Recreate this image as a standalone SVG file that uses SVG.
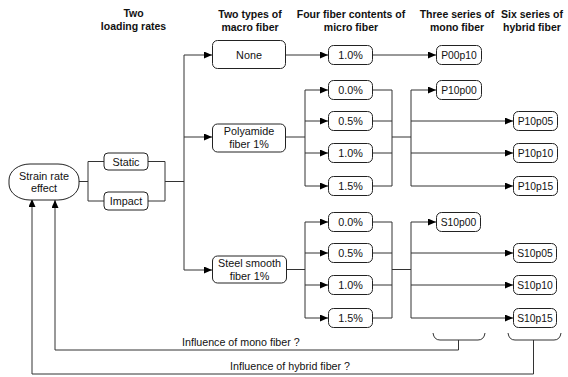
<svg xmlns="http://www.w3.org/2000/svg" width="568" height="377" viewBox="0 0 568 377">
<defs>
<marker id="ah" markerWidth="8" markerHeight="7" refX="8" refY="3.5" orient="auto" markerUnits="userSpaceOnUse"><path d="M0,0 L8,3.5 L0,7 z" fill="#000"/></marker>
<style>
text{font-family:"Liberation Sans",Arial,sans-serif;font-size:10.8px;fill:#111;text-anchor:middle}
.h{font-weight:bold;font-size:10.5px}
.s{font-size:10.3px}
.b{fill:#fff;stroke:#222;stroke-width:1}
.c{fill:none;stroke:#333;stroke-width:1}
.a{marker-end:url(#ah)}
.l{font-size:10.7px;text-anchor:start}
</style>
</defs>
<rect width="568" height="377" fill="#fff"/>
<g id="headers">
<text class="h" x="133.5" y="17">Two</text><text class="h" x="133.5" y="30">loading rates</text>
<text class="h" x="250" y="18">Two types of</text><text class="h" x="250" y="31">macro fiber</text>
<text class="h" x="351" y="18">Four fiber contents of</text><text class="h" x="351" y="31">micro fiber</text>
<text class="h" x="457" y="18">Three series of</text><text class="h" x="457" y="31">mono fiber</text>
<text class="h" x="532" y="18">Six series of</text><text class="h" x="532" y="31">hybrid fiber</text>
</g>
<g id="connectors">
<path class="c" d="M79,181.5 H88 M104,161.5 H88 V201 H104 M148,161.5 H165 V201 H148 M165,181.5 H184 M184,55 V270"/>
<path class="c a" d="M184,55 H212"/><path class="c a" d="M184,137 H212"/><path class="c a" d="M184,270 H212"/>
<path class="c a" d="M285.5,55 H328"/><path class="c a" d="M372.5,55 H436"/>
<path class="c" d="M285.5,137 H305 M305,90 V186 M372.5,90 H392 M372.5,121 H392 M372.5,153 H392 M372.5,186 H392 M392,90 V186 M392,137 H411 M411,90 V186"/>
<path class="c a" d="M305,90 H328"/><path class="c a" d="M305,121 H328"/><path class="c a" d="M305,153 H328"/><path class="c a" d="M305,186 H328"/>
<path class="c a" d="M411,90 H436"/><path class="c a" d="M411,121 H513"/><path class="c a" d="M411,153 H513"/><path class="c a" d="M411,186 H513"/>
<path class="c" d="M286.5,269.5 H305 M305,222 V318 M372.5,222 H392 M372.5,253 H392 M372.5,285 H392 M372.5,318 H392 M392,222 V318 M392,269.5 H411 M411,222 V318"/>
<path class="c a" d="M305,222 H328"/><path class="c a" d="M305,253 H328"/><path class="c a" d="M305,285 H328"/><path class="c a" d="M305,318 H328"/>
<path class="c a" d="M411,222 H436"/><path class="c a" d="M411,253 H513"/><path class="c a" d="M411,285 H513"/><path class="c a" d="M411,318 H513"/>
<path class="c" d="M433,333 Q434,340 440,340 H478 Q484,340 485,333 M458.5,340 V350"/>
<path class="c" d="M508,333 Q509,340 515,340 H554 Q560,340 561,333 M533.5,340 V374"/>
<path class="c a" d="M458.5,350 H55 V200"/>
<path class="c a" d="M533.5,374 H32 V199"/>
</g>
<g id="strain"><rect class="b" x="9" y="164" width="70" height="36" rx="21" ry="16"/><text x="44" y="180">Strain rate</text><text x="44" y="192">effect</text></g>
<g id="static"><rect class="b" x="104" y="153" width="44" height="17" rx="4"/><text x="126" y="165.5">Static</text></g>
<g id="impact"><rect class="b" x="104" y="192" width="44" height="18" rx="4"/><text x="126" y="205">Impact</text></g>
<g id="none"><rect class="b" x="212.5" y="40.5" width="73" height="28" rx="5"/><text x="249" y="58.5">None</text></g>
<g id="polyamide"><rect class="b" x="212.5" y="124" width="73" height="28" rx="5"/><text x="249" y="135">Polyamide</text><text x="249" y="148">fiber 1%</text></g>
<g id="steel"><rect class="b" x="212.5" y="256" width="74" height="27" rx="5"/><text x="249.5" y="266.5">Steel smooth</text><text x="249.5" y="280">fiber 1%</text></g>
<g id="m-none"><rect class="b" x="328.5" y="45.5" width="44" height="19" rx="5"/><text x="350.5" y="59">1.0%</text></g>
<g id="m-p00"><rect class="b" x="328.5" y="80.5" width="44" height="19" rx="5"/><text x="350.5" y="94">0.0%</text></g>
<g id="m-p05"><rect class="b" x="328.5" y="111.5" width="44" height="19" rx="5"/><text x="350.5" y="125">0.5%</text></g>
<g id="m-p10"><rect class="b" x="328.5" y="143.5" width="44" height="19" rx="5"/><text x="350.5" y="157">1.0%</text></g>
<g id="m-p15"><rect class="b" x="328.5" y="176.5" width="44" height="19" rx="5"/><text x="350.5" y="190">1.5%</text></g>
<g id="m-s00"><rect class="b" x="328.5" y="212.5" width="44" height="19" rx="5"/><text x="350.5" y="226">0.0%</text></g>
<g id="m-s05"><rect class="b" x="328.5" y="243.5" width="44" height="19" rx="5"/><text x="350.5" y="257">0.5%</text></g>
<g id="m-s10"><rect class="b" x="328.5" y="275.5" width="44" height="19" rx="5"/><text x="350.5" y="289">1.0%</text></g>
<g id="m-s15"><rect class="b" x="328.5" y="308.5" width="44" height="19" rx="5"/><text x="350.5" y="322">1.5%</text></g>
<g id="P00p10"><rect class="b" x="436.5" y="45.5" width="45" height="19" rx="5"/><text class="s" x="459" y="59">P00p10</text></g>
<g id="P10p00"><rect class="b" x="436.5" y="80.5" width="45" height="19" rx="5"/><text class="s" x="459" y="94">P10p00</text></g>
<g id="P10p05"><rect class="b" x="513.5" y="111.5" width="44" height="19" rx="5"/><text class="s" x="535.5" y="125">P10p05</text></g>
<g id="P10p10"><rect class="b" x="513.5" y="143.5" width="44" height="19" rx="5"/><text class="s" x="535.5" y="157">P10p10</text></g>
<g id="P10p15"><rect class="b" x="513.5" y="176.5" width="44" height="19" rx="5"/><text class="s" x="535.5" y="190">P10p15</text></g>
<g id="S10p00"><rect class="b" x="436.5" y="212.5" width="44" height="19" rx="5"/><text class="s" x="458.5" y="226">S10p00</text></g>
<g id="S10p05"><rect class="b" x="513.5" y="243.5" width="43" height="19" rx="5"/><text class="s" x="535" y="257">S10p05</text></g>
<g id="S10p10"><rect class="b" x="513.5" y="275.5" width="43" height="19" rx="5"/><text class="s" x="535" y="289">S10p10</text></g>
<g id="S10p15"><rect class="b" x="513.5" y="308.5" width="43" height="19" rx="5"/><text class="s" x="535" y="322">S10p15</text></g>
<g id="labels"><text class="l" x="182" y="346">Influence of mono fiber ?</text><text class="l" x="230" y="370">Influence of hybrid fiber ?</text></g>
</svg>
